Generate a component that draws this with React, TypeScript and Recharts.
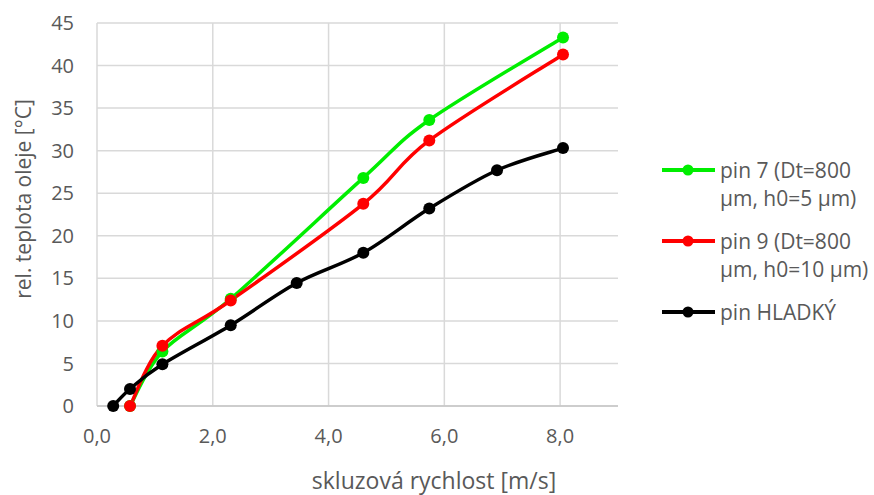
import React from "react";
import { LineChart, Line, XAxis, YAxis, CartesianGrid, Label } from "recharts";

const seriesNames = [
  "pin 7 (Dt=800 μm, h0=5 μm)",
  "pin 9 (Dt=800 μm, h0=10 μm)",
  "pin HLADKÝ",
];
const seriesColors = ["#00EE00", "#FF0000", "#000000"];

const pin7X = [0.57, 1.13, 2.31, 4.6, 5.74, 8.05];
const pin7Y = [0, 6.4, 12.6, 26.8, 33.6, 43.3];

const pin9X = [0.57, 1.13, 2.31, 4.6, 5.74, 8.05];
const pin9Y = [0, 7.07, 12.4, 23.75, 31.2, 41.3];

const hladkyX = [0.28, 0.57, 1.13, 2.31, 3.45, 4.6, 5.74, 6.91, 8.05];
const hladkyY = [0, 2.0, 4.9, 9.5, 14.45, 18.0, 23.2, 27.7, 30.3];

const xDomain = [0, 9];
const xTicks = [0, 2, 4, 6, 8];
const yTicks = [0, 5, 10, 15, 20, 25, 30, 35, 40, 45];

const xTitle = "skluzová rychlost [m/s]";
const yTitle = "rel. teplota oleje [°C]";

const zip = (xs: number[], ys: number[]) => xs.map((x, i) => ({ x, y: ys[i] }));
const seriesData = [zip(pin7X, pin7Y), zip(pin9X, pin9Y), zip(hladkyX, hladkyY)];

const FONT = "'Open Sans', sans-serif";
const TEXT = "#595959";
const GRID = "#d9d9d9";
const AXIS = "#c6c6c6";

const fmtX = (v: number) => v.toFixed(1).replace(".", ",");

// Excel-like smoothed line (Catmull-Rom style Bezier, 1/6 tangent factor)
const excelSmooth: any = (context: any) => {
  let pts: number[][] = [];
  return {
    areaStart() {},
    areaEnd() {},
    lineStart() {
      pts = [];
    },
    point(x: number, y: number) {
      pts.push([+x, +y]);
    },
    lineEnd() {
      if (!pts.length) return;
      context.moveTo(pts[0][0], pts[0][1]);
      for (let i = 0; i < pts.length - 1; i++) {
        const p0 = pts[i - 1] || pts[i];
        const p1 = pts[i];
        const p2 = pts[i + 1];
        const p3 = pts[i + 2] || pts[i + 1];
        const c1x = p1[0] + (p2[0] - p0[0]) / 6;
        const c1y = p1[1] + (p2[1] - p0[1]) / 6;
        const c2x = p2[0] - (p3[0] - p1[0]) / 6;
        const c2y = p2[1] - (p3[1] - p1[1]) / 6;
        context.bezierCurveTo(c1x, c1y, c2x, c2y, p2[0], p2[1]);
      }
    },
  };
};

const verticalGen = (props: any) => {
  const { xAxis, offset } = props || {};
  if (xAxis && typeof xAxis.scale === "function") {
    return xTicks.map((t) => xAxis.scale(t));
  }
  return xTicks.map(
    (t) => offset.left + ((t - xDomain[0]) / (xDomain[1] - xDomain[0])) * offset.width
  );
};

export default function App() {
  return (
    <div style={{ position: "absolute", left: 0, top: 0, width: 874, height: 495, background: "#fff", fontFamily: FONT }}>
      <LineChart
        width={874}
        height={495}
        margin={{ top: 23, right: 256, left: 0, bottom: 0 }}
      >
        <CartesianGrid stroke={GRID} strokeWidth={1.5} verticalCoordinatesGenerator={verticalGen} />
        <XAxis
          type="number"
          dataKey="x"
          domain={xDomain}
          ticks={xTicks}
          tickFormatter={fmtX}
          height={89}
          axisLine={{ stroke: AXIS, strokeWidth: 1.5 }}
          tickLine={false}
          tickSize={0}
          tickMargin={23}
          tick={{ fill: TEXT, fontSize: 20, fontFamily: FONT }}
          allowDuplicatedCategory={false}
        >
          <Label
            content={({ viewBox }: any) => (
              <text
                x={434}
                y={viewBox.y + 83}
                textAnchor="middle"
                fill={TEXT}
                fontSize={23}
                fontFamily={FONT}
              >
                {xTitle}
              </text>
            )}
          />
        </XAxis>
        <YAxis
          type="number"
          domain={[0, 45]}
          ticks={yTicks}
          width={97}
          axisLine={false}
          tickLine={false}
          tickSize={0}
          tickMargin={23}
          tick={{ fill: TEXT, fontSize: 20, fontFamily: FONT }}
        >
          <Label
            content={() => (
              <text
                x={31}
                y={199}
                transform="rotate(-90 31 199)"
                textAnchor="middle"
                fill={TEXT}
                fontSize={21}
                fontFamily={FONT}
              >
                {yTitle}
              </text>
            )}
          />
        </YAxis>
        {seriesData.map((d, i) => (
          <Line
            key={seriesNames[i]}
            data={d}
            dataKey="y"
            name={seriesNames[i]}
            type={excelSmooth}
            stroke={seriesColors[i]}
            strokeWidth={3.5}
            dot={{ r: 6, fill: seriesColors[i], stroke: seriesColors[i], strokeWidth: 0 }}
            isAnimationActive={false}
          />
        ))}
      </LineChart>
      <div
        style={{
          position: "absolute",
          left: 660,
          top: 156,
          width: 214,
          fontFamily: FONT,
          fontSize: 21,
          lineHeight: "28px",
          color: TEXT,
        }}
      >
        {seriesNames.map((n, i) => (
          <div key={n} style={{ display: "flex", alignItems: "flex-start", marginBottom: 15 }}>
            <svg width={60} height={28} style={{ flex: "0 0 auto" }}>
              <line x1={2} x2={55} y1={14} y2={14} stroke={seriesColors[i]} strokeWidth={4} />
              <circle cx={28} cy={14} r={5.5} fill={seriesColors[i]} />
            </svg>
            <div style={{ width: 152, whiteSpace: "normal" }}>{n}</div>
          </div>
        ))}
      </div>
    </div>
  );
}
